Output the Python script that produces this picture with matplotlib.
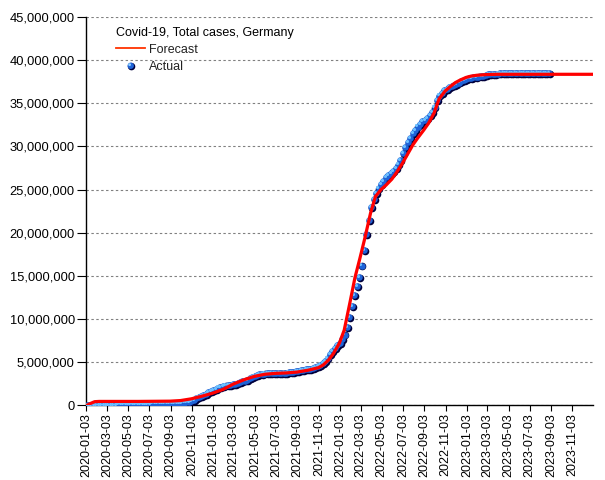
import numpy as np
import pandas as pd
import matplotlib
matplotlib.use("Agg")
import matplotlib.pyplot as plt
import matplotlib.dates as mdates
from matplotlib.ticker import FuncFormatter
from matplotlib.transforms import offset_copy
from matplotlib.legend_handler import HandlerBase
from matplotlib.lines import Line2D
from matplotlib.patches import Circle

plt.rcParams['font.family'] = ['Liberation Sans', 'DejaVu Sans']

# Actual cumulative cases (millions), weekly from 2020-01-05
actual_start = "2020-01-05"
actual_2020 = [0, 0, 0, 0,
               0, 0, 0, 0,
               0.0001, 0.0008, 0.0046, 0.0186, 0.052,
               0.092, 0.118, 0.140, 0.153,
               0.162, 0.169, 0.173, 0.176, 0.180,
               0.183, 0.185, 0.189, 0.194,
               0.196, 0.198, 0.202, 0.206,
               0.210, 0.216, 0.224, 0.232, 0.240,
               0.248, 0.257, 0.267, 0.280,
               0.295, 0.315, 0.350, 0.418,
               0.526, 0.658, 0.790, 0.918, 1.043,
               1.172, 1.320, 1.497, 1.640]
actual_2021 = [1.775, 1.928, 2.053, 2.142, 2.224,
               2.291, 2.339, 2.388, 2.447,
               2.507, 2.575, 2.667, 2.771,
               2.874, 2.978, 3.122, 3.264,
               3.396, 3.507, 3.589, 3.644, 3.681,
               3.704, 3.718, 3.726, 3.731,
               3.736, 3.742, 3.751, 3.763,
               3.781, 3.804, 3.836, 3.883, 3.943,
               4.005, 4.064, 4.116, 4.163,
               4.205, 4.249, 4.307, 4.392, 4.508,
               4.677, 4.880, 5.165, 5.524,
               5.914, 6.258, 6.650, 6.950]
actual_2022 = [7.25, 7.65, 8.20, 9.10, 10.20,
               11.50, 12.80, 13.80, 14.90,
               16.20, 18.00, 19.80, 21.50,
               23.00, 23.90, 24.60, 25.20,
               25.60, 26.00, 26.40, 26.70, 26.90,
               27.10, 27.50, 27.90, 28.40,
               29.20, 29.90, 30.50, 31.00, 31.50,
               31.90, 32.30, 32.60, 32.90,
               33.10, 33.30, 33.60, 34.00,
               34.60, 35.40, 35.90, 36.20, 36.50,
               36.70, 36.85, 37.00, 37.10,
               37.25, 37.40, 37.55, 37.70]
actual_2023 = [37.80, 37.90, 37.95, 38.00, 38.05,
               38.10, 38.15, 38.20, 38.28,
               38.34, 38.39, 38.42, 38.44,
               38.45, 38.46, 38.46, 38.46, 38.47,
               38.47, 38.47, 38.47, 38.47,
               38.47, 38.47, 38.48, 38.48,
               38.48, 38.48, 38.48, 38.48, 38.48,
               38.48, 38.48, 38.48, 38.48]
actual = np.array(actual_2020 + actual_2021 + actual_2022 + actual_2023) * 1e6
actual_dates = pd.date_range(actual_start, periods=len(actual), freq="7D")

# Forecast curve (millions)
forecast_dates = pd.to_datetime([
    "2020-01-05", "2020-01-18", "2020-01-28", "2020-02-10", "2020-06-01",
    "2020-09-01", "2020-10-01", "2020-11-01", "2020-12-01",
    "2021-01-01", "2021-02-01", "2021-03-01", "2021-04-01", "2021-05-01",
    "2021-06-01", "2021-07-01", "2021-08-01", "2021-09-01", "2021-10-01",
    "2021-11-01", "2021-11-15", "2021-12-01", "2021-12-15",
    "2022-01-01", "2022-01-15", "2022-02-01", "2022-02-15", "2022-03-01",
    "2022-03-15", "2022-04-01", "2022-04-15", "2022-05-01", "2022-05-15",
    "2022-06-01", "2022-06-15", "2022-07-01", "2022-07-15", "2022-08-01",
    "2022-08-15", "2022-09-01", "2022-09-15", "2022-10-01", "2022-10-15",
    "2022-11-01", "2022-11-15", "2022-12-01", "2022-12-15",
    "2023-01-01", "2023-01-15", "2023-02-01", "2023-03-01", "2023-04-01",
    "2024-01-01"])
forecast = np.array([
    0.0, 0.25, 0.42, 0.45, 0.45,
    0.48, 0.55, 0.75, 1.05,
    1.40, 1.85, 2.45, 2.95, 3.35,
    3.60, 3.70, 3.75, 3.85, 4.05,
    4.35, 4.65, 5.25, 6.00,
    7.20, 8.70, 12.00, 14.80, 17.00,
    19.30, 22.30, 24.20, 25.00, 25.50,
    26.20, 27.00, 28.00, 29.00, 30.20,
    31.00, 31.90, 32.70, 33.90, 35.50,
    36.40, 36.90, 37.40, 37.70,
    38.00, 38.15, 38.25, 38.33, 38.36,
    38.36]) * 1e6

x_ticks = pd.date_range("2020-01-03", "2023-11-03", freq=pd.DateOffset(months=2))


class BallHandler(HandlerBase):
    def create_artists(self, legend, orig_handle, xdescent, ydescent,
                       width, height, fontsize, trans):
        cx = 0.5 * width - xdescent
        cy = 0.5 * height - ydescent
        parts = [(0.6, -0.6, 2.7, '#00003c'), (0, 0, 2.3, '#1f63d8'),
                 (-0.8, 0.8, 1.0, '#8fd0ff')]
        return [Circle((cx + dx, cy + dy), r, color=c, transform=trans, lw=0)
                for dx, dy, r, c in parts]


fig = plt.figure(figsize=(6.05, 4.8), dpi=100)
ax = fig.add_axes([86 / 605, 74.7 / 480, 507 / 605, 388.3 / 480])

# 3D-looking balls: shadow, body, highlight
shadow_tr = offset_copy(ax.transData, fig=fig, x=0.9, y=-0.9, units='dots')
light_tr = offset_copy(ax.transData, fig=fig, x=-1.1, y=1.1, units='dots')
ax.scatter(actual_dates, actual, s=30, color='#00003c', lw=0, transform=shadow_tr, zorder=3)
ax.scatter(actual_dates, actual, s=22, color='#1f63d8', lw=0, zorder=4)
ax.scatter(actual_dates, actual, s=5, color='#6cc0ff', lw=0, transform=light_tr, zorder=5)

ax.plot(forecast_dates, forecast, color='#ff0000', lw=2.3, zorder=6)

ax.set_xlim(pd.Timestamp("2020-01-03"), pd.Timestamp("2024-01-01"))
ax.set_ylim(0, 45e6)
ax.set_yticks(np.arange(0, 45e6 + 1, 5e6))
ax.yaxis.set_major_formatter(FuncFormatter(lambda v, p: f"{int(v):,}"))
ax.set_xticks(x_ticks)
ax.xaxis.set_major_formatter(mdates.DateFormatter("%Y-%m-%d"))
plt.setp(ax.get_xticklabels(), rotation=90)

ax.tick_params(axis='y', length=6.5, width=0.8, pad=1.5, labelsize=9.3, colors='black')
ax.tick_params(axis='x', length=4, width=0.8, pad=1.5, labelsize=9, colors='black')
ax.grid(axis='y', color='#808080', linestyle=(0, (2.2, 2.2)), lw=0.8)
ax.set_axisbelow(True)
for s in ['top', 'right']:
    ax.spines[s].set_visible(False)
for s in ['left', 'bottom']:
    ax.spines[s].set_linewidth(1.0)
    ax.spines[s].set_color('black')

h_fc = Line2D([], [], color='#ff3300', lw=1.3)
h_act = Line2D([], [], color='#1f63d8')
leg = ax.legend([h_fc, h_act], ["Forecast", "Actual"], title="Covid-19, Total cases, Germany",
                loc='upper left', bbox_to_anchor=(0.05, 0.988), frameon=False,
                fontsize=9, title_fontsize=9, handlelength=2.3, handletextpad=0.3,
                labelspacing=0.45, borderaxespad=0, alignment='left',
                handler_map={h_act: BallHandler()})
leg._legend_box.sep = 3.5
for t in leg.get_texts():
    t.set_color('#222222')

fig.savefig("out.png", dpi=100)
